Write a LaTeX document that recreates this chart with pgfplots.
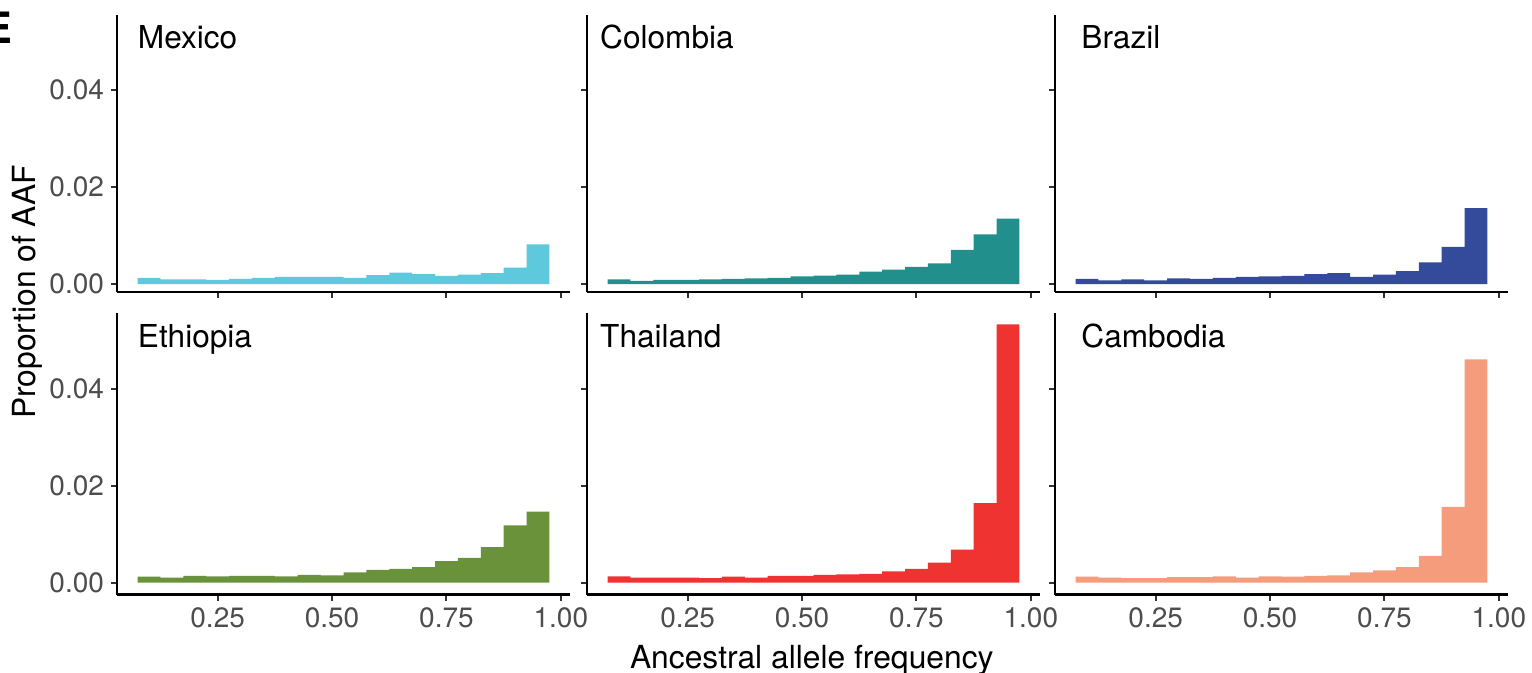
\documentclass[border=0pt]{standalone}
\usepackage{fontspec}
\setmainfont{TeX Gyre Heros}
\usepackage{pgfplots}
\pgfplotsset{compat=1.18}
\usepackage{pgfplotstable}

\definecolor{cMex}{RGB}{94,200,220}
\definecolor{cCol}{RGB}{33,144,140}
\definecolor{cBra}{RGB}{52,74,154}
\definecolor{cEth}{RGB}{106,146,58}
\definecolor{cTha}{RGB}{238,51,48}
\definecolor{cCam}{RGB}{245,156,124}
\definecolor{ticktext}{RGB}{77,77,77}
\definecolor{tickline}{RGB}{51,51,51}

% Histogram bins of width 0.05, centred at 0.10 ... 0.95
\pgfplotstableread{
x y
0.10 0.0013
0.15 0.0010
0.20 0.0010
0.25 0.0009
0.30 0.0011
0.35 0.0013
0.40 0.0015
0.45 0.0015
0.50 0.0015
0.55 0.0013
0.60 0.0019
0.65 0.0024
0.70 0.0021
0.75 0.0017
0.80 0.0020
0.85 0.0023
0.90 0.0034
0.95 0.0082
}\mexico

\pgfplotstableread{
x y
0.10 0.0010
0.15 0.0007
0.20 0.0009
0.25 0.0009
0.30 0.0010
0.35 0.0011
0.40 0.0012
0.45 0.0013
0.50 0.0016
0.55 0.0018
0.60 0.0020
0.65 0.0026
0.70 0.0030
0.75 0.0036
0.80 0.0043
0.85 0.0071
0.90 0.0103
0.95 0.0135
}\colombia

\pgfplotstableread{
x y
0.10 0.0011
0.15 0.0008
0.20 0.0010
0.25 0.0008
0.30 0.0012
0.35 0.0011
0.40 0.0013
0.45 0.0015
0.50 0.0016
0.55 0.0017
0.60 0.0021
0.65 0.0023
0.70 0.0015
0.75 0.0020
0.80 0.0027
0.85 0.0045
0.90 0.0077
0.95 0.0157
}\brazil

\pgfplotstableread{
x y
0.10 0.0012
0.15 0.0010
0.20 0.0014
0.25 0.0013
0.30 0.0014
0.35 0.0014
0.40 0.0013
0.45 0.0016
0.50 0.0015
0.55 0.0021
0.60 0.0026
0.65 0.0028
0.70 0.0032
0.75 0.0044
0.80 0.0051
0.85 0.0073
0.90 0.0118
0.95 0.0146
}\ethiopia

\pgfplotstableread{
x y
0.10 0.0013
0.15 0.0010
0.20 0.0010
0.25 0.0010
0.30 0.0009
0.35 0.0012
0.40 0.0010
0.45 0.0014
0.50 0.0014
0.55 0.0016
0.60 0.0017
0.65 0.0018
0.70 0.0023
0.75 0.0028
0.80 0.0041
0.85 0.0068
0.90 0.0164
0.95 0.0532
}\thailand

\pgfplotstableread{
x y
0.10 0.0012
0.15 0.0010
0.20 0.0009
0.25 0.0009
0.30 0.0011
0.35 0.0011
0.40 0.0013
0.45 0.0010
0.50 0.0013
0.55 0.0012
0.60 0.0014
0.65 0.0015
0.70 0.0021
0.75 0.0025
0.80 0.0032
0.85 0.0055
0.90 0.0156
0.95 0.0460
}\cambodia

\pgfplotsset{
  aafpanel/.style={
    scale only axis,
    width=226.5bp,
    xmin=0.03, xmax=1.02, ymax=0.0555,
    axis lines=left,
    axis line style={-, line width=1.3bp, black},
    tick align=outside,
    major tick length=3bp,
    every tick/.style={tickline, line width=1bp},
    xtick={0.25,0.5,0.75,1}, ytick={0,0.02,0.04},
    scaled x ticks=false, scaled y ticks=false,
    xticklabels={{},{},{},{}}, yticklabels={{},{},{}},
    tick label style={font=\fontsize{14bp}{16bp}\selectfont, text=ticktext},
    ybar, bar width=0.05,
  },
  row1/.style={anchor=south west, height=138.5bp, ymin=-0.0016},
  row2/.style={anchor=south west, height=140.7bp, ymin=-0.0025,
    xticklabels={0.25,0.50,0.75,1.00}},
  col1/.style={yticklabels={0.00,0.02,0.04}},
}
\tikzset{
  paneltitle/.style={anchor=base west, inner sep=0pt,
    font=\fontsize{15.8bp}{18bp}\selectfont},
}

\begin{document}
\begin{tikzpicture}
\useasboundingbox (0,0) rectangle (766bp,336.5bp);

% panel letter, partly outside the page
\node[anchor=base west, inner sep=0pt,
  font=\fontsize{21.6bp}{24bp}\selectfont\bfseries] at (-8.5bp,314.5bp) {E};

% top row
\begin{axis}[aafpanel, row1, col1, at={(58.5bp,190.5bp)}]
  \addplot[fill=cMex, draw=none] table {\mexico};
  \node[paneltitle] at (axis cs:0.075,0.0485) {Mexico};
\end{axis}
\begin{axis}[aafpanel, row1, at={(293.5bp,190.5bp)}]
  \addplot[fill=cCol, draw=none] table {\colombia};
  \node[paneltitle] at (axis cs:0.058,0.0485) {Colombia};
\end{axis}
\begin{axis}[aafpanel, row1, at={(527.5bp,190.5bp)}]
  \addplot[fill=cBra, draw=none] table {\brazil};
  \node[paneltitle] at (axis cs:0.087,0.0485) {Brazil};
\end{axis}

% bottom row
\begin{axis}[aafpanel, row2, col1, at={(58.5bp,39.15bp)}]
  \addplot[fill=cEth, draw=none] table {\ethiopia};
  \node[paneltitle] at (axis cs:0.075,0.0485) {Ethiopia};
\end{axis}
\begin{axis}[aafpanel, row2, at={(293.5bp,39.15bp)}]
  \addplot[fill=cTha, draw=none] table {\thailand};
  \node[paneltitle] at (axis cs:0.058,0.0485) {Thailand};
\end{axis}
\begin{axis}[aafpanel, row2, at={(527.5bp,39.15bp)}]
  \addplot[fill=cCam, draw=none] table {\cambodia};
  \node[paneltitle] at (axis cs:0.087,0.0485) {Cambodia};
\end{axis}

% shared axis titles
\node[rotate=90, anchor=north, inner sep=0pt,
  font=\fontsize{15.9bp}{18bp}\selectfont] at (5.8bp,190.5bp) {Proportion of AAF};
\node[anchor=base, inner sep=0pt,
  font=\fontsize{15.9bp}{18bp}\selectfont] at (405.9bp,2.35bp) {Ancestral allele frequency};
\end{tikzpicture}
\end{document}
